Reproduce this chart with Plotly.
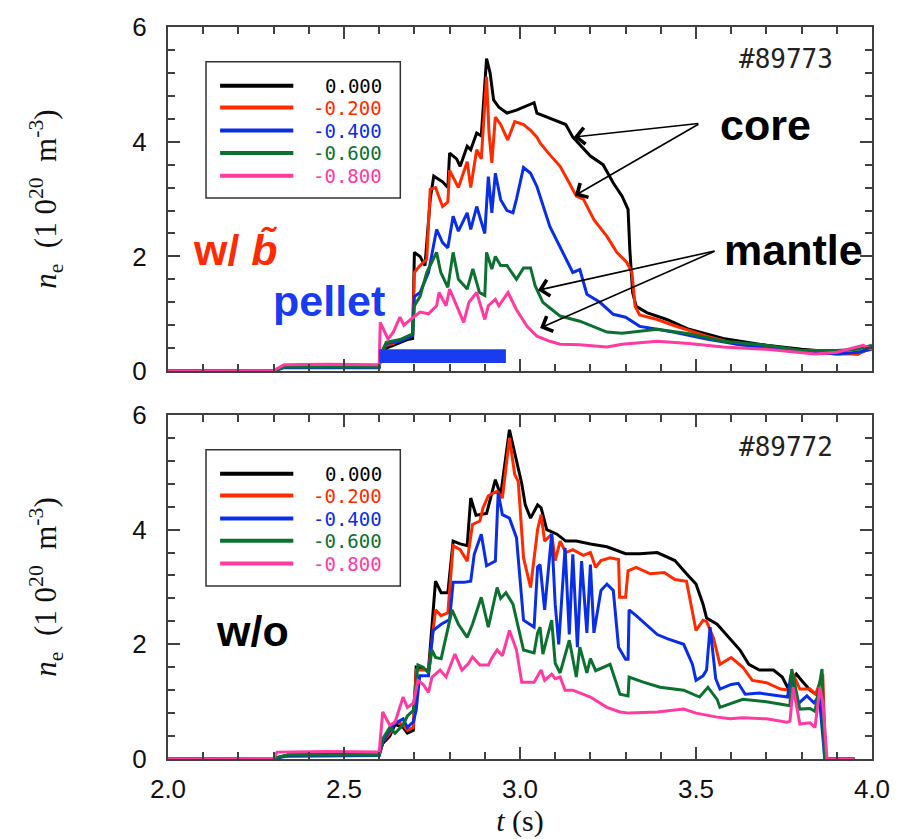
import plotly.graph_objects as go

# chord positions and trace colours
chords = ["0.000", "-0.200", "-0.400", "-0.600", "-0.800"]
colors = ["#000000", "#ff2a00", "#0a2ee6", "#0b7030", "#ff3aa0"]

# ---- shot #89773 (with b~) ----
t_a0 = [2.00, 2.15, 2.30, 2.33, 2.45, 2.60, 2.605, 2.62, 2.64, 2.66, 2.68, 2.695, 2.70, 2.716, 2.73, 2.745, 2.755,
        2.78, 2.795, 2.80, 2.82, 2.83, 2.85, 2.86, 2.877, 2.89, 2.905, 2.915, 2.925, 2.94, 2.963, 2.99, 3.01, 3.03,
        3.04, 3.048, 3.07, 3.09, 3.114, 3.13, 3.15, 3.17, 3.20, 3.236, 3.265, 3.29, 3.307, 3.312, 3.32, 3.33, 3.36,
        3.417, 3.48, 3.577, 3.70, 3.80, 3.90, 3.96, 3.99, 4.00]
n_a0 = [0.00, 0.01, 0.01, 0.08, 0.09, 0.09, 0.30, 0.40, 0.45, 0.50, 0.55, 0.57, 2.07, 2.00, 1.84, 3.00, 3.40,
        3.30, 3.20, 3.80, 3.70, 3.57, 3.92, 3.86, 4.15, 4.10, 5.45, 5.20, 4.73, 4.60, 4.50, 4.55, 4.60, 4.65,
        4.68, 4.50, 4.45, 4.40, 4.35, 4.30, 4.08, 3.95, 3.75, 3.60, 3.28, 3.05, 2.82, 2.12, 1.37, 1.13, 1.02,
        0.90, 0.73, 0.57, 0.45, 0.38, 0.33, 0.30, 0.40, 0.42]

t_a1 = [2.00, 2.15, 2.30, 2.33, 2.60, 2.605, 2.62, 2.64, 2.66, 2.68, 2.695, 2.70, 2.716, 2.735, 2.745, 2.76, 2.78,
        2.795, 2.80, 2.825, 2.85, 2.86, 2.877, 2.89, 2.905, 2.912, 2.92, 2.93, 2.945, 2.965, 2.985, 3.01, 3.03,
        3.048, 3.057, 3.085, 3.114, 3.14, 3.16, 3.18, 3.21, 3.247, 3.275, 3.303, 3.318, 3.327, 3.34, 3.39, 3.435,
        3.53, 3.617, 3.70, 3.80, 3.90, 3.96, 3.99, 4.00]
n_a1 = [0.00, 0.00, 0.01, 0.07, 0.08, 0.32, 0.45, 0.48, 0.55, 0.60, 0.62, 1.72, 1.84, 1.95, 3.17, 3.20, 2.87,
        2.95, 3.50, 3.20, 3.65, 3.20, 3.86, 3.70, 5.13, 4.15, 3.63, 4.43, 4.30, 4.03, 4.35, 4.30, 4.20,
        4.08, 3.98, 3.77, 3.57, 3.28, 3.05, 3.00, 2.64, 2.35, 2.07, 1.90, 1.72, 1.13, 0.98, 0.90, 0.80,
        0.61, 0.47, 0.42, 0.35, 0.30, 0.30, 0.38, 0.40]

t_a2 = [2.00, 2.30, 2.33, 2.60, 2.605, 2.62, 2.66, 2.695, 2.70, 2.716, 2.74, 2.763, 2.78, 2.795, 2.81, 2.825, 2.85,
        2.86, 2.877, 2.90, 2.91, 2.92, 2.93, 2.945, 2.963, 2.98, 2.99, 3.01, 3.03, 3.048, 3.085, 3.114, 3.15, 3.17,
        3.19, 3.227, 3.265, 3.30, 3.34, 3.39, 3.435, 3.53, 3.617, 3.70, 3.80, 3.90, 3.96, 3.99, 4.00]
n_a2 = [0.00, 0.00, 0.06, 0.06, 0.30, 0.48, 0.52, 0.62, 1.30, 1.37, 1.72, 2.47, 2.24, 2.15, 2.70, 2.44, 2.76,
        2.47, 2.87, 2.40, 3.39, 2.76, 3.45, 2.99, 2.80, 2.76, 3.00, 3.55, 3.45, 3.22, 2.52, 2.17, 1.72, 1.77,
        1.34, 1.20, 0.99, 0.94, 0.78, 0.73, 0.68, 0.56, 0.47, 0.40, 0.35, 0.30, 0.33, 0.36, 0.38]

t_a3 = [2.00, 2.30, 2.33, 2.60, 2.605, 2.62, 2.66, 2.695, 2.70, 2.716, 2.735, 2.763, 2.775, 2.795, 2.81, 2.825, 2.85,
        2.866, 2.885, 2.90, 2.905, 2.92, 2.93, 2.945, 2.963, 2.99, 3.01, 3.03, 3.043, 3.065, 3.085, 3.114, 3.17,
        3.247, 3.29, 3.34, 3.39, 3.48, 3.577, 3.70, 3.80, 3.90, 3.96, 4.00]
n_a3 = [0.00, 0.00, 0.07, 0.07, 0.30, 0.50, 0.55, 0.65, 1.14, 1.30, 1.72, 2.07, 1.72, 1.46, 2.07, 1.60, 1.43,
        1.78, 1.37, 1.32, 2.07, 1.78, 2.00, 1.84, 1.84, 1.60, 1.80, 1.80, 1.49, 1.20, 1.10, 0.96, 0.87,
        0.68, 0.66, 0.70, 0.73, 0.65, 0.52, 0.45, 0.36, 0.36, 0.38, 0.45]

t_a4 = [2.00, 2.30, 2.33, 2.45, 2.60, 2.603, 2.625, 2.64, 2.659, 2.67, 2.697, 2.716, 2.74, 2.763, 2.77, 2.79, 2.80,
        2.82, 2.84, 2.855, 2.877, 2.90, 2.91, 2.93, 2.94, 2.966, 2.99, 3.02, 3.048, 3.085, 3.114, 3.17, 3.247,
        3.29, 3.39, 3.48, 3.577, 3.70, 3.84, 3.90, 3.975, 4.00]
n_a4 = [0.00, 0.01, 0.11, 0.12, 0.11, 0.85, 0.56, 0.68, 0.94, 0.80, 0.94, 1.03, 1.00, 1.14, 1.37, 1.14, 1.43,
        1.14, 0.85, 1.20, 1.37, 0.90, 1.14, 1.25, 1.14, 1.37, 1.07, 0.78, 0.61, 0.52, 0.47, 0.46, 0.42,
        0.47, 0.52, 0.48, 0.42, 0.38, 0.30, 0.33, 0.45, 0.38]

# ---- shot #89772 (without) ----
t_b0 = [2.00, 2.30, 2.34, 2.45, 2.60, 2.61, 2.63, 2.645, 2.668, 2.68, 2.697, 2.705, 2.74, 2.76, 2.776, 2.795, 2.81,
        2.83, 2.85, 2.86, 2.875, 2.905, 2.93, 2.945, 2.97, 2.99, 3.005, 3.015, 3.03, 3.05, 3.06, 3.076, 3.105,
        3.13, 3.16, 3.20, 3.247, 3.30, 3.34, 3.39, 3.44, 3.473, 3.50, 3.52, 3.53, 3.56, 3.60, 3.625, 3.65, 3.68,
        3.72, 3.745, 3.76, 3.785, 3.80, 3.824, 3.84, 3.86, 3.868, 3.95]
n_b0 = [0.00, 0.01, 0.07, 0.08, 0.08, 0.27, 0.40, 0.60, 0.55, 0.45, 0.50, 1.60, 1.55, 3.10, 2.90, 2.90, 3.80,
        3.75, 3.72, 4.55, 4.25, 4.28, 4.87, 4.60, 5.74, 5.20, 4.80, 4.43, 4.20, 4.43, 4.38, 4.00, 3.92,
        3.80, 3.80, 3.75, 3.70, 3.58, 3.58, 3.60, 3.46, 3.23, 3.05, 2.70, 2.46, 2.35, 2.07, 1.90, 1.65, 1.55,
        1.55, 1.43, 1.25, 1.48, 1.37, 1.20, 1.13, 1.10, 0.00, 0.00]

t_b1 = [2.00, 2.30, 2.34, 2.60, 2.61, 2.63, 2.645, 2.668, 2.68, 2.697, 2.705, 2.74, 2.76, 2.776, 2.795, 2.81, 2.83,
        2.85, 2.865, 2.886, 2.895, 2.91, 2.935, 2.95, 2.97, 2.985, 2.995, 3.01, 3.03, 3.05, 3.06, 3.07, 3.09,
        3.10, 3.114, 3.13, 3.15, 3.18, 3.20, 3.215, 3.23, 3.256, 3.28, 3.283, 3.30, 3.307, 3.33, 3.37, 3.41,
        3.44, 3.473, 3.50, 3.52, 3.53, 3.55, 3.568, 3.60, 3.615, 3.633, 3.66, 3.70, 3.74, 3.767, 3.776, 3.795,
        3.824, 3.84, 3.86, 3.868, 3.95]
n_b1 = [0.00, 0.01, 0.06, 0.07, 0.30, 0.45, 0.65, 0.60, 0.50, 0.55, 1.55, 1.55, 2.60, 2.50, 2.55, 3.72, 3.65,
        3.45, 4.09, 4.15, 4.38, 4.59, 4.67, 4.55, 5.60, 4.96, 4.84, 3.51, 2.99, 4.00, 4.26, 3.80, 3.92,
        3.46, 3.80, 3.60, 3.65, 3.55, 3.60, 3.34, 3.46, 3.51, 3.48, 2.82, 2.82, 3.28, 3.34, 3.23, 3.25,
        3.13, 3.10, 2.24, 2.42, 2.40, 2.10, 1.65, 1.77, 1.70, 1.60, 1.37, 1.33, 1.22, 1.20, 1.48, 1.22,
        1.22, 1.13, 1.48, 0.00, 0.00]

t_b2 = [2.00, 2.30, 2.34, 2.60, 2.61, 2.63, 2.645, 2.668, 2.68, 2.697, 2.705, 2.715, 2.74, 2.753, 2.776, 2.80, 2.81,
        2.84, 2.86, 2.87, 2.89, 2.905, 2.93, 2.938, 2.95, 2.97, 2.99, 3.01, 3.04, 3.05, 3.057, 3.07, 3.09, 3.10,
        3.11, 3.128, 3.14, 3.15, 3.163, 3.175, 3.19, 3.20, 3.21, 3.23, 3.247, 3.265, 3.28, 3.30, 3.307, 3.31,
        3.33, 3.39, 3.418, 3.465, 3.49, 3.50, 3.52, 3.53, 3.54, 3.556, 3.568, 3.60, 3.62, 3.64, 3.68, 3.73,
        3.76, 3.77, 3.79, 3.815, 3.835, 3.85, 3.866, 3.95]
n_b2 = [0.00, 0.01, 0.05, 0.06, 0.30, 0.50, 0.62, 0.70, 0.55, 0.65, 0.85, 1.45, 1.45, 2.24, 2.35, 2.43, 3.08,
        3.08, 3.10, 3.57, 3.92, 3.37, 3.45, 4.64, 4.26, 4.20, 3.86, 2.42, 2.30, 3.35, 3.39, 2.60, 3.92, 2.70,
        2.00, 3.68, 2.17, 3.57, 1.95, 3.45, 2.20, 3.39, 2.20, 2.94, 3.05, 2.94, 1.95, 1.74, 1.74, 2.60,
        2.50, 2.17, 2.10, 2.00, 1.65, 1.37, 1.45, 1.55, 2.30, 1.40, 1.22, 1.30, 1.32, 1.13, 1.15, 1.10,
        1.08, 1.48, 0.96, 1.10, 0.98, 1.10, 0.00, 0.00]

t_b3 = [2.00, 2.30, 2.34, 2.60, 2.61, 2.63, 2.645, 2.668, 2.68, 2.697, 2.71, 2.725, 2.74, 2.75, 2.76, 2.776, 2.807,
        2.825, 2.85, 2.865, 2.89, 2.91, 2.935, 2.945, 2.96, 2.98, 3.01, 3.04, 3.05, 3.057, 3.065, 3.09, 3.10,
        3.114, 3.14, 3.16, 3.17, 3.19, 3.20, 3.215, 3.256, 3.284, 3.307, 3.31, 3.35, 3.398, 3.465, 3.51, 3.534,
        3.56, 3.568, 3.597, 3.633, 3.70, 3.767, 3.772, 3.795, 3.824, 3.838, 3.858, 3.865, 3.95]
n_b3 = [0.00, 0.01, 0.07, 0.07, 0.35, 0.55, 0.45, 0.60, 0.75, 0.85, 1.64, 1.60, 1.50, 1.90, 1.77, 1.75, 2.60,
        2.35, 2.12, 2.35, 2.82, 2.30, 2.99, 2.80, 2.90, 2.70, 1.90, 1.85, 2.20, 2.30, 1.83, 2.42, 1.67,
        1.50, 2.07, 1.43, 1.95, 1.50, 1.75, 1.54, 1.65, 1.13, 1.10, 1.43, 1.34, 1.25, 1.20, 1.08, 1.25,
        1.04, 0.90, 0.96, 1.04, 1.00, 0.93, 1.57, 0.87, 0.88, 0.83, 1.57, 0.00, 0.00]

t_b4 = [2.00, 2.30, 2.31, 2.45, 2.60, 2.61, 2.63, 2.645, 2.668, 2.68, 2.697, 2.71, 2.725, 2.74, 2.75, 2.773, 2.79,
        2.815, 2.835, 2.853, 2.865, 2.886, 2.91, 2.92, 2.935, 2.95, 2.97, 2.99, 3.005, 3.04, 3.06, 3.07, 3.09,
        3.10, 3.114, 3.128, 3.15, 3.20, 3.247, 3.284, 3.31, 3.39, 3.465, 3.50, 3.56, 3.597, 3.633, 3.70, 3.758,
        3.767, 3.776, 3.795, 3.824, 3.838, 3.852, 3.861, 3.872, 3.95]
n_b4 = [0.00, 0.01, 0.12, 0.13, 0.12, 0.82, 0.59, 0.64, 1.08, 0.90, 0.97, 1.37, 1.30, 1.16, 1.43, 1.55, 1.43,
        1.83, 1.55, 1.66, 1.78, 1.64, 1.64, 1.76, 1.90, 1.80, 2.24, 1.90, 1.34, 1.34, 1.55, 1.37, 1.48,
        1.40, 1.43, 1.20, 1.20, 1.08, 0.90, 0.82, 0.80, 0.82, 0.87, 0.80, 0.73, 0.70, 0.72, 0.70, 0.64,
        0.66, 1.25, 0.61, 0.63, 0.55, 1.25, 0.96, 0.00, 0.00]

shot_a = "#89773"
shot_b = "#89772"
pellet_window = (2.60, 2.96)   # pellet injection interval (s)
pellet_band = (0.14, 0.38)

# arrow (head t, head n) -> tail (t, n) on the upper panel
core_tail = (3.511, 4.32)
core_heads = [(3.153, 4.08), (3.156, 3.06)]
mantle_tail = (3.557, 2.10)
mantle_heads = [(3.051, 1.41), (3.057, 0.75)]

series_a = [(t_a0, n_a0), (t_a1, n_a1), (t_a2, n_a2), (t_a3, n_a3), (t_a4, n_a4)]
series_b = [(t_b0, n_b0), (t_b1, n_b1), (t_b2, n_b2), (t_b3, n_b3), (t_b4, n_b4)]

fig = go.Figure()
for (t, n), c, name in zip(series_a, colors, chords):
    fig.add_trace(go.Scatter(x=t, y=n, mode="lines", line=dict(color=c, width=3),
                             name=name, showlegend=False, xaxis="x", yaxis="y"))
for (t, n), c, name in zip(series_b, colors, chords):
    fig.add_trace(go.Scatter(x=t, y=n, mode="lines", line=dict(color=c, width=3),
                             name=name, showlegend=False, xaxis="x2", yaxis="y2"))

AX = "#404040"
tick_font = dict(family="Liberation Sans, Arial, sans-serif", size=26, color="#111")
serif = "Liberation Serif, Times New Roman, serif"


def xaxis_cfg(labels):
    return dict(range=[2, 4], showgrid=False, zeroline=False, showline=True, linecolor=AX, linewidth=2,
                mirror="ticks", ticks="inside", ticklen=12, tickwidth=1.5, tickcolor=AX, dtick=0.5, tick0=2,
                minor=dict(dtick=0.1, ticklen=7, tickwidth=1.5, tickcolor=AX, ticks="inside"),
                showticklabels=labels, tickformat=".1f", tickfont=tick_font, ticklabelstandoff=6)


def yaxis_cfg(domain):
    return dict(domain=domain, range=[0, 6], showgrid=False, zeroline=False, showline=True, linecolor=AX,
                linewidth=2, mirror="ticks", ticks="inside", ticklen=12, tickwidth=1.5, tickcolor=AX,
                dtick=2, tick0=0,
                minor=dict(dtick=0.4, ticklen=7, tickwidth=1.5, tickcolor=AX, ticks="inside"),
                tickfont=tick_font, ticklabelstandoff=14,
                title=dict(text="<i>n</i><sub>e</sub>  (1 0<sup>20</sup>  m<sup>-3</sup>)",
                           font=dict(family=serif, size=31, color="#111"),
                           standoff=66))


xa = xaxis_cfg(False)
xa.update(anchor="y", domain=[0, 1])
xb = xaxis_cfg(True)
xb.update(anchor="y2", domain=[0, 1],
          title=dict(text="<i>t</i> (s)", font=dict(family=serif, size=30, color="#111"), standoff=2))
ya = yaxis_cfg([0.5299, 1.0])
ya.update(anchor="x")
yb = yaxis_cfg([0.0, 0.4701])
yb.update(anchor="x2")

shapes = []
annotations = []

# pellet injection bar
shapes.append(dict(type="rect", xref="x", yref="y", x0=pellet_window[0], x1=pellet_window[1],
                   y0=pellet_band[0], y1=pellet_band[1], fillcolor="#1a3cf0", line=dict(width=0),
                   layer="above"))

legend_rows = [0.829, 0.766, 0.699, 0.634, 0.568]
for xr, yr, shot in (("x domain", "y domain", shot_a), ("x2 domain", "y2 domain", shot_b)):
    shapes.append(dict(type="rect", xref=xr, yref=yr, x0=0.054, x1=0.330, y0=0.503, y1=0.899,
                       line=dict(color="#333", width=1.5), fillcolor="white", layer="above"))
    for yy, c, name in zip(legend_rows, colors, chords):
        shapes.append(dict(type="line", xref=xr, yref=yr, x0=0.074, x1=0.178, y0=yy, y1=yy,
                           line=dict(color=c, width=4), layer="above"))
        annotations.append(dict(xref=xr, yref=yr, x=0.307, y=yy, xanchor="right", yanchor="middle",
                                text=name, showarrow=False, height=21,
                                font=dict(family="DejaVu Sans Mono, monospace", size=19, color=c)))
    annotations.append(dict(xref=xr, yref=yr, x=0.947, y=0.907, xanchor="right", yanchor="middle",
                            text=shot, showarrow=False,
                            font=dict(family="DejaVu Sans Mono, monospace", size=26, color="#222")))

big = dict(family="Liberation Sans, Arial, sans-serif", size=43)
annotations += [
    dict(xref="x domain", yref="y domain", x=0.781, y=0.714, xanchor="left", yanchor="middle",
         text="<b>core</b>", showarrow=False, font=dict(**big, color="#000")),
    dict(xref="x domain", yref="y domain", x=0.787, y=0.353, xanchor="left", yanchor="middle",
         text="<b>mantle</b>", showarrow=False, font=dict(**big, color="#000")),
    dict(xref="x domain", yref="y domain", x=0.033, y=0.353, xanchor="left", yanchor="middle",
         text="<b>w/ <i>b\u0303</i></b>", showarrow=False, font=dict(**big, color="#ff2a00")),
    dict(xref="x domain", yref="y domain", x=0.146, y=0.205, xanchor="left", yanchor="middle",
         text="<b>pellet</b>", showarrow=False, font=dict(**big, color="#1a3cf0")),
    dict(xref="x2 domain", yref="y2 domain", x=0.066, y=0.373, xanchor="left", yanchor="middle",
         text="<b>w/o</b>", showarrow=False, font=dict(**big, color="#000")),
]

for tail, heads in ((core_tail, core_heads), (mantle_tail, mantle_heads)):
    for hx, hy in heads:
        annotations.append(dict(xref="x", yref="y", axref="x", ayref="y", x=hx, y=hy, ax=tail[0], ay=tail[1],
                                text="", showarrow=True, arrowhead=4, arrowsize=2.0, arrowwidth=1.6,
                                arrowcolor="#000"))

fig.update_layout(width=909, height=839, margin=dict(l=168, r=37, t=26, b=77),
                  paper_bgcolor="white", plot_bgcolor="white",
                  xaxis=xa, yaxis=ya, xaxis2=xb, yaxis2=yb,
                  shapes=shapes, annotations=annotations, showlegend=False)

fig.write_html("out.html")
